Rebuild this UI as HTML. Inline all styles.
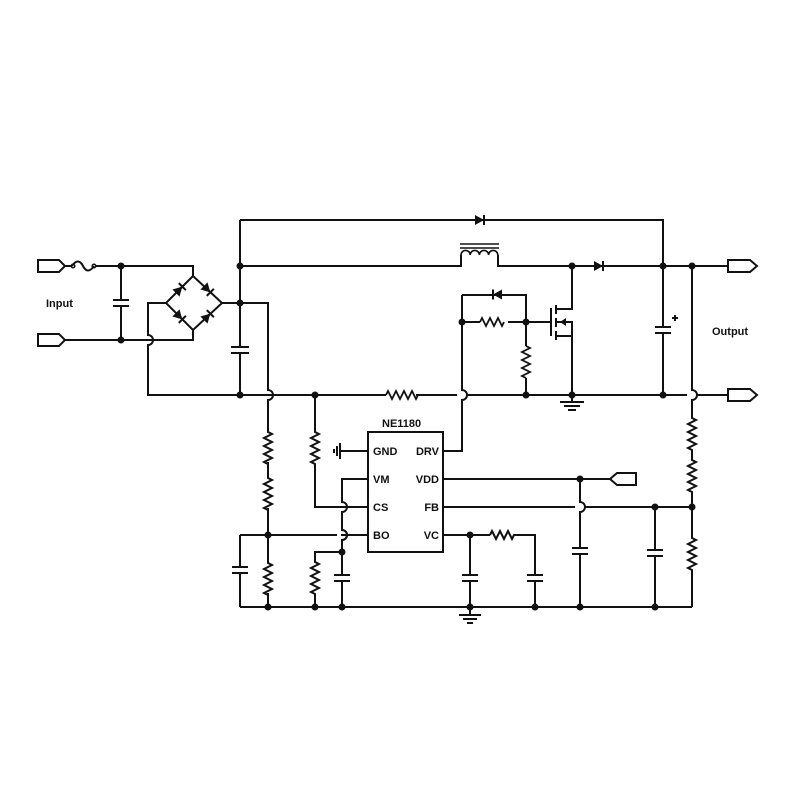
<!DOCTYPE html>
<html><head><style>body{margin:0;background:#fff}svg{display:block}text{font-family:"Liberation Sans",sans-serif;font-weight:bold;font-size:11px;fill:#111}</style></head><body>
<svg width="800" height="800" viewBox="0 0 800 800">
<defs>
<g id="dio"><polygon points="-5,-5 -5,5 4,0" fill="#111"/><path d="M4 -5 V5" stroke="#111" stroke-width="2"/></g>
</defs>
<g fill="none" stroke="#111" stroke-width="2">
<path d="M38 260 H59 L65 266 L59 272 H38 Z"/>
<path d="M38 334 H59 L65 340 L59 346 H38 Z"/>
<path d="M65 266 H72 M72 266 c4 -6 8 -6 11 0 c3 6 7 6 11 0 M95 266 H193 V276"/>
<circle cx="73" cy="266" r="1.8" stroke-width="1.5"/><circle cx="94" cy="266" r="1.8" stroke-width="1.5"/>
<path d="M65 340 H193 V330 M121 266 V300 M121 306 V340 M113 300 H129 M113 306 H129" />
<path d="M193 276 L166 303 L193 330 L222 303 Z"/>
<path d="M166 303 H148 V335 a5 5 0 0 1 0 10 V395 H268"/>
<path d="M222 303 H268 V390 a5 5 0 0 1 0 10 V607"/>
<path d="M240 220 V395 M240 220 H663 V395 M240 266 H461 V255 M498 255 V266 H750"/>
<path d="M461 255 a4.6 4.6 0 0 1 9.2 0 a4.6 4.6 0 0 1 9.2 0 a4.6 4.6 0 0 1 9.2 0 a4.6 4.6 0 0 1 9.2 0" stroke-width="1.6"/>
<path d="M460 244 H499 M460 248 H499" stroke-width="1.6"/>
<rect x="230" y="346" width="20" height="8" fill="#fff" stroke="none"/>
<path d="M231 347 H249 M231 353 H249"/>
<path d="M268 395 H457 M467 395 H687 M697 395 H750"/>
<rect x="386" y="388" width="30" height="14" fill="#fff" stroke="none"/>
<path d="M386 395 l2 -4 l4 8 l4 -8 l4 8 l4 -8 l4 8 l4 -8 l4 8 l2 -4" stroke-width="1.8"/>
<path d="M462 295 V390 a5 5 0 0 1 0 10 V451 H443 M462 295 H526 V346 M526 378 V395 M462 322 H480 M508 322 H551"/>
<path d="M480 322 l2 -4 l4 8 l4 -8 l4 8 l4 -8 l4 8 l2 -4" stroke-width="1.8"/>
<path d="M526 346 l4 2 l-8 4 l8 4 l-8 4 l8 4 l-8 4 l8 4 l-8 4 l4 2" stroke-width="1.8"/>
<path d="M551 308 V336 M556 305 V314 M556 318 V327 M556 331 V340 M556 309 H572 V266 M556 322 H572 V395 M556 336 H572"/>
<path d="M560 402 H584 M564 406 H580 M568 410 H576 M572 395 V402"/>
<rect x="654" y="326" width="18" height="8" fill="#fff" stroke="none"/>
<path d="M655 327 H671 M655 333 H671 M672 318 h6 M675 315 v6" />
<path d="M728 260 H750 L757 266 L750 272 H728 Z M728 389 H750 L757 395 L750 401 H728 Z" fill="#fff"/>
<path d="M692 266 V390 a5 5 0 0 1 0 10 V418 l4 2 l-8 4 l8 4 l-8 4 l8 4 l-8 4 l8 4 l-8 4 l4 2 V460 l4 2 l-8 4 l8 4 l-8 4 l8 4 l-8 4 l8 4 l-8 4 l4 2 V538 l4 2 l-8 4 l8 4 l-8 4 l8 4 l-8 4 l8 4 l-8 4 l4 2 V607"/>
<rect x="368" y="432" width="75" height="120"/>
<path d="M340 451 H368 M340 443 V459 M337 446 V456 M334 449 V453"/>
<path d="M368 479 H342 V502 a5 5 0 0 1 0 10 V530 a5 5 0 0 1 0 10 V574 M342 582 V607"/>
<path d="M315 395 V432 l4 2 l-8 4 l8 4 l-8 4 l8 4 l-8 4 l8 4 l-8 4 l4 2 V507 H368"/>
<rect x="259" y="430" width="18" height="32" fill="#fff" stroke="none"/>
<rect x="259" y="476" width="18" height="32" fill="#fff" stroke="none"/>
<rect x="259" y="561" width="18" height="32" fill="#fff" stroke="none"/>
<path d="M268 430 V432 l4 2 l-8 4 l8 4 l-8 4 l8 4 l-8 4 l8 4 l-8 4 l4 2 V462 M268 476 V478 l4 2 l-8 4 l8 4 l-8 4 l8 4 l-8 4 l8 4 l-8 4 l4 2 V508 M268 561 V563 l4 2 l-8 4 l8 4 l-8 4 l8 4 l-8 4 l8 4 l-8 4 l4 2 V593"/>
<path d="M240 535 H368 M240 535 V567 M240 573 V607 M232 567 H248 M232 573 H248"/>
<path d="M342 552 H315 V562 l4 2 l-8 4 l8 4 l-8 4 l8 4 l-8 4 l8 4 l-8 4 l4 2 V607"/>
<path d="M334 575 H350 M334 581 H350"/>
<path d="M240 607 H692"/>
<path d="M443 479 H610 M610 479 L617 473 H636 V485 H617 Z M443 507 H692 M443 535 H490 M490 535 l2 -4 l4 8 l4 -8 l4 8 l4 -8 l4 8 l2 -4 H535 V575 M535 581 V607 M527 575 H543 M527 581 H543"/>
<path d="M470 535 V575 M470 581 V607 M462 575 H478 M462 581 H478 M470 607 V615 M459 615 H481 M463 619 H477 M467 623 H473"/>
<rect x="575" y="500" width="10" height="14" fill="#fff" stroke="none"/>
<path d="M580 479 V502 a5 5 0 0 1 0 10 V548 M580 554 V607 M572 548 H588 M572 554 H588"/>
<path d="M655 507 V550 M655 556 V607 M647 550 H663 M647 556 H663"/>
</g>
<rect x="337" y="532" width="4" height="6" fill="#fff"/>
<path d="M342 530 a5 5 0 0 1 0 10" fill="none" stroke="#111" stroke-width="2"/>
<use href="#dio" transform="translate(480,220)"/>
<use href="#dio" transform="translate(599,266)"/>
<use href="#dio" transform="translate(497,294.5) rotate(180)"/>
<use href="#dio" transform="translate(179.5,289.5) rotate(-45)"/>
<use href="#dio" transform="translate(207.5,289.5) rotate(45)"/>
<use href="#dio" transform="translate(179.5,316.5) rotate(45)"/>
<use href="#dio" transform="translate(207.5,316.5) rotate(-45)"/>
<g fill="#111">
<polygon points="560,322 566,318 566,326"/>
<circle cx="121" cy="266" r="3.5"/><circle cx="121" cy="340" r="3.5"/>
<circle cx="240" cy="266" r="3.5"/><circle cx="240" cy="303" r="3.5"/><circle cx="240" cy="395" r="3.5"/>
<circle cx="315" cy="395" r="3.5"/><circle cx="526" cy="395" r="3.5"/><circle cx="572" cy="395" r="3.5"/><circle cx="663" cy="395" r="3.5"/>
<circle cx="572" cy="266" r="3.5"/><circle cx="663" cy="266" r="3.5"/><circle cx="692" cy="266" r="3.5"/>
<circle cx="462" cy="322" r="3.5"/><circle cx="526" cy="322" r="3.5"/>
<circle cx="268" cy="535" r="3.5"/><circle cx="342" cy="552" r="3.5"/>
<circle cx="268" cy="607" r="3.5"/><circle cx="315" cy="607" r="3.5"/><circle cx="342" cy="607" r="3.5"/><circle cx="470" cy="607" r="3.5"/><circle cx="535" cy="607" r="3.5"/><circle cx="580" cy="607" r="3.5"/><circle cx="655" cy="607" r="3.5"/>
<circle cx="470" cy="535" r="3.5"/><circle cx="580" cy="479" r="3.5"/><circle cx="655" cy="507" r="3.5"/><circle cx="692" cy="507" r="3.5"/>
</g>
<text x="46" y="307" font-size="12">Input</text>
<text x="712" y="335" font-size="12">Output</text>
<text x="382" y="427" font-size="12">NE1180</text>
<text x="373" y="455">GND</text><text x="373" y="483">VM</text><text x="373" y="511">CS</text><text x="373" y="539">BO</text>
<text x="439" y="455" text-anchor="end">DRV</text><text x="439" y="483" text-anchor="end">VDD</text><text x="439" y="511" text-anchor="end">FB</text><text x="439" y="539" text-anchor="end">VC</text>
</svg>
</body></html>
